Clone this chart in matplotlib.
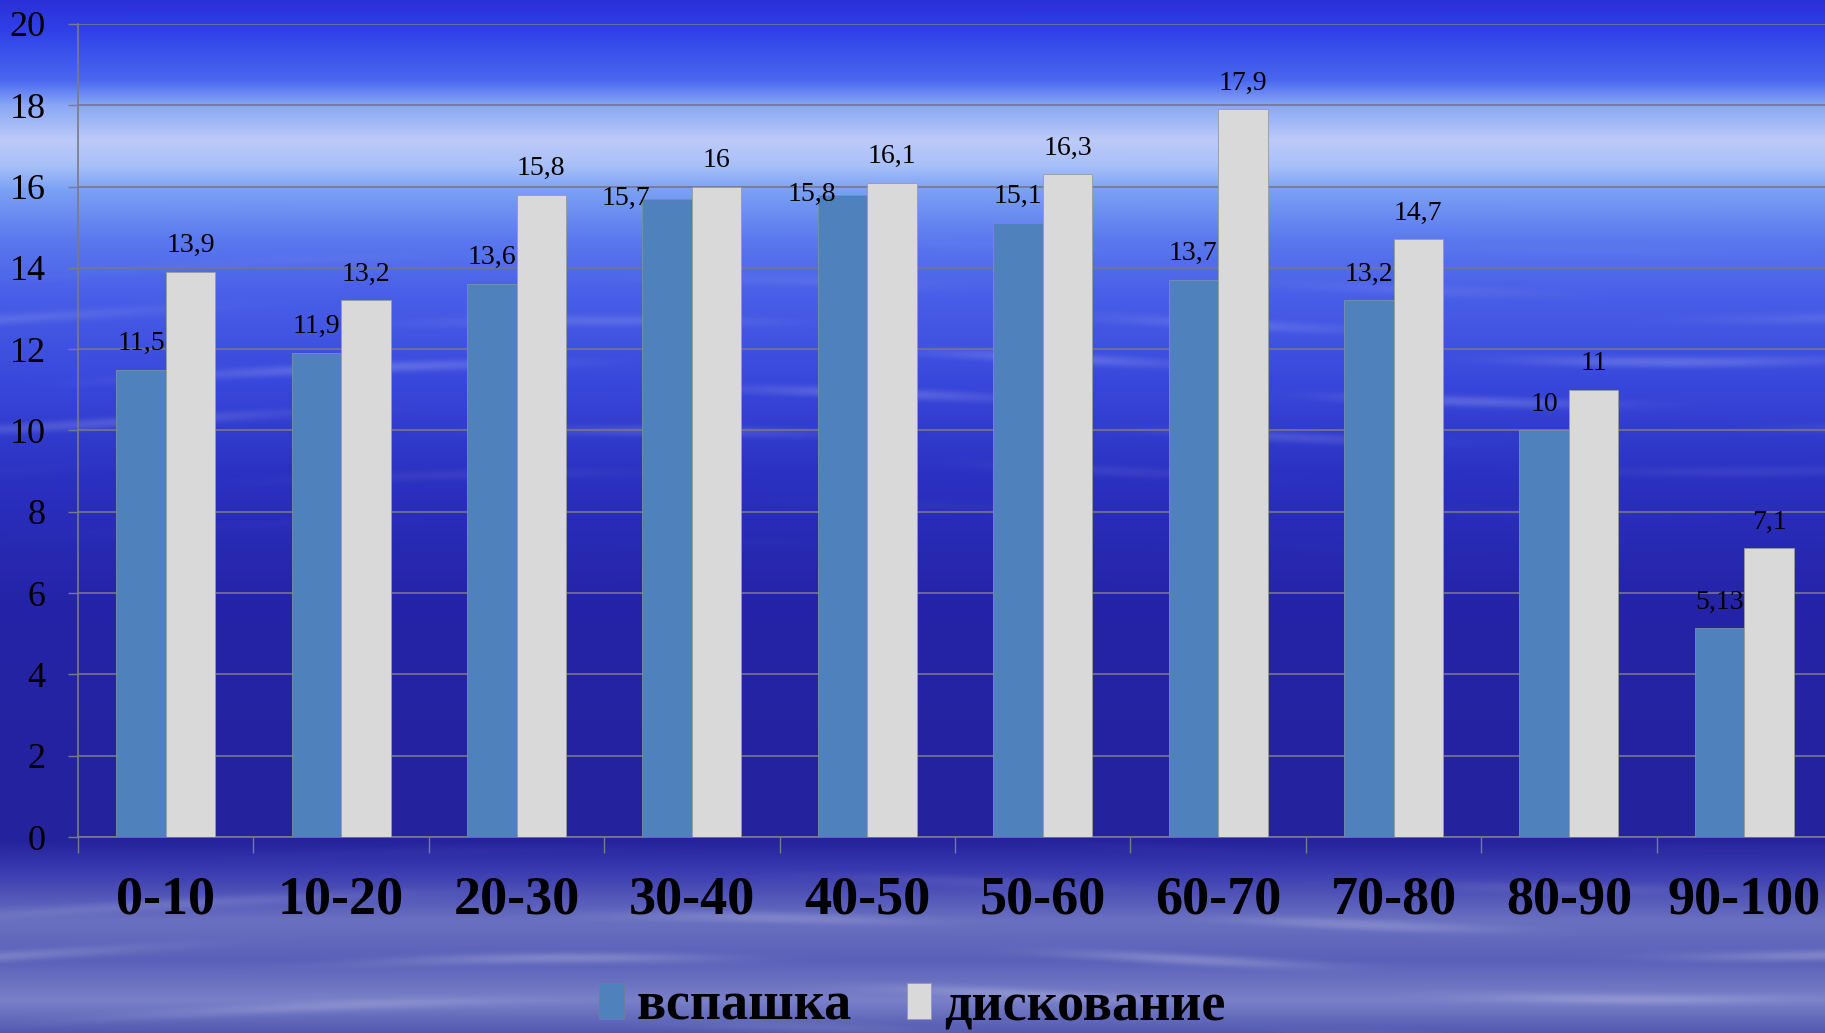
import matplotlib

matplotlib.use("Agg")

import numpy as np
import matplotlib.pyplot as plt
from matplotlib.patches import Patch

# data
categories = ["0-10", "10-20", "20-30", "30-40", "40-50",
              "50-60", "60-70", "70-80", "80-90", "90-100"]
plowing = [11.5, 11.9, 13.6, 15.7, 15.8, 15.1, 13.7, 13.2, 10, 5.13]
disking = [13.9, 13.2, 15.8, 16, 16.1, 16.3, 17.9, 14.7, 11, 7.1]
series_names = ["вспашка", "дискование"]
yticks = [0, 2, 4, 6, 8, 10, 12, 14, 16, 18, 20]

BLUE = "#4f81bd"
LIGHT = "#d9d9d9"
SERIF = ["Liberation Serif", "DejaVu Serif"]

W, H = 1825, 1033


def make_background():
    """Sky / sea style vertical gradient with a few soft streaks."""
    stops = [
        (0, "#2a30d8"), (30, "#3040e8"), (80, "#4a68f0"), (105, "#8aa8f5"),
        (140, "#bccaf8"), (165, "#a8c0f8"), (190, "#7aa0f5"), (240, "#5a78ee"),
        (290, "#4a60e8"), (380, "#3848dc"), (480, "#2a30c0"), (600, "#2424a8"),
        (840, "#24229c"), (870, "#3a3ab0"), (920, "#6a70c0"), (960, "#5a60b8"),
        (1000, "#7a80c8"), (1033, "#5058b0"),
    ]
    ys = np.arange(H)
    xs = np.linspace(0, 1, 460)
    pos = [s[0] for s in stops]
    rgb = np.array([matplotlib.colors.to_rgb(s[1]) for s in stops])
    col = np.stack([np.interp(ys, pos, rgb[:, i]) for i in range(3)], axis=1)
    img = np.repeat(col[:, None, :], len(xs), axis=1)

    # soft horizontal streaks (water texture)
    yy, xx = np.meshgrid(ys, xs, indexing="ij")
    streak = (np.sin(yy / 7.0 + 3 * np.sin(xx * 5.0)) *
              np.sin(xx * 9.0 + yy / 40.0))
    streak = np.clip(streak, 0, 1) ** 3
    mask = np.exp(-((yy - 380) / 90.0) ** 2) * 0.18 + \
        np.exp(-((yy - 960) / 70.0) ** 2) * 0.22
    img = img + (1 - img) * (streak * mask)[..., None]
    return np.clip(img, 0, 1)


fig = plt.figure(figsize=(W / 100, H / 100), dpi=100)
bg = fig.add_axes([0, 0, 1, 1], zorder=-10)
bg.imshow(make_background(), aspect="auto", extent=(0, 1, 0, 1))
bg.set_axis_off()

ax = fig.add_axes([78 / W, 1 - 837 / H, 1754 / W, 813 / H])
ax.set_facecolor("none")

x = np.arange(len(categories))
bw = 0.282
ax.bar(x - bw / 2, plowing, bw, color=BLUE, edgecolor="#7f8fa0",
       linewidth=0.6, zorder=3, label=series_names[0])
ax.bar(x + bw / 2, disking, bw, color=LIGHT, edgecolor="#9a9a9a",
       linewidth=0.6, zorder=3, label=series_names[1])


def fmt(v):
    return f"{v:g}".replace(".", ",")


# labels nudged aside where they would collide
nudge = {3: (-30, 0), 4: (-22, 0)}
for i, v in enumerate(plowing):
    dx, dy = nudge.get(i, (0, 19))
    ax.annotate(fmt(v), (x[i] - bw / 2, v), xytext=(dx, dy),
                textcoords="offset points", ha="center", va="center",
                fontsize=20, family=SERIF, color="black", zorder=5)
for i, v in enumerate(disking):
    ax.annotate(fmt(v), (x[i] + bw / 2, v), xytext=(0, 19),
                textcoords="offset points", ha="center", va="center",
                fontsize=20, family=SERIF, color="black", zorder=5)

ax.set_xlim(-0.5, len(categories) - 0.5)
ax.set_ylim(0, 20)
ax.set_yticks(yticks)
ax.set_yticklabels([str(t) for t in yticks], fontsize=26, family=SERIF)
ax.tick_params(axis="y", length=7.2, width=1, color="#7a7a8a",
               pad=16, labelcolor="black")

ax.set_xticks(np.arange(len(categories) + 1) - 0.5)
ax.set_xticklabels([])
ax.tick_params(axis="x", length=11.5, width=1, color="#7a7a8a")
for i, c in enumerate(categories):
    ax.text(x[i], -0.0775, c, transform=ax.get_xaxis_transform(),
            ha="center", va="center", fontsize=39, fontweight="bold",
            family=SERIF, color="black")

ax.grid(axis="y", color="#767688", linewidth=1.2, zorder=1)
ax.set_axisbelow(True)
for s in ["top", "right"]:
    ax.spines[s].set_visible(False)
for s in ["left", "bottom"]:
    ax.spines[s].set_color("#7a7a8a")
    ax.spines[s].set_linewidth(1.2)

handles = [Patch(facecolor=BLUE, edgecolor="#6f7f90", linewidth=0.6),
           Patch(facecolor=LIGHT, edgecolor="#9a9a9a", linewidth=0.6)]
fig.legend(handles, series_names, loc="center",
           bbox_to_anchor=(0.5, 1 - 1007 / H), ncol=2, frameon=False,
           handlelength=0.45, handleheight=0.65, handletextpad=0.25,
           columnspacing=1.0,
           prop={"family": SERIF, "weight": "bold", "size": 39})

fig.savefig("out.png", dpi=100)
